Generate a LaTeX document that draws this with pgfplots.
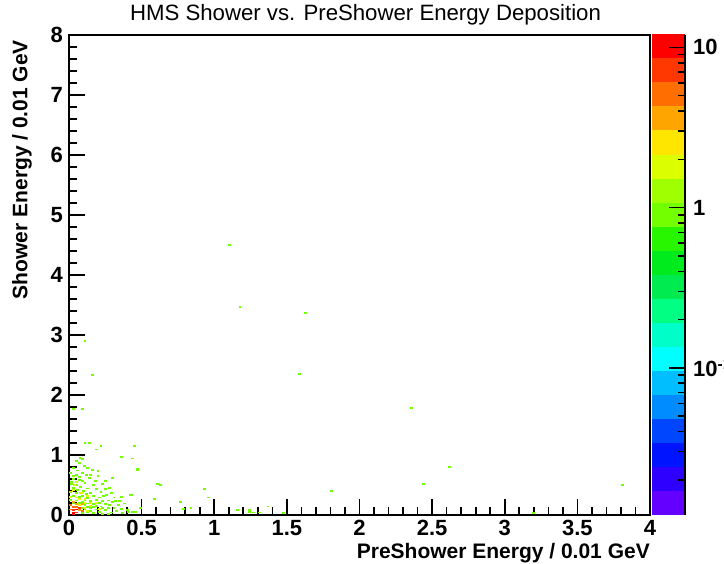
\documentclass[border=0pt]{standalone}
\usepackage{pgfplots}
\pgfplotsset{compat=1.18}
\usepackage{fontspec}
\setmainfont{Liberation Sans}

\definecolor{c01}{RGB}{100,0,255}
\definecolor{c02}{RGB}{45,0,255}
\definecolor{c03}{RGB}{0,20,255}
\definecolor{c04}{RGB}{0,70,255}
\definecolor{c05}{RGB}{0,140,255}
\definecolor{c06}{RGB}{0,190,255}
\definecolor{c07}{RGB}{0,255,255}
\definecolor{c08}{RGB}{0,255,200}
\definecolor{c09}{RGB}{0,255,130}
\definecolor{c10}{RGB}{0,235,80}
\definecolor{c11}{RGB}{0,235,30}
\definecolor{c12}{RGB}{40,245,0}
\definecolor{c13}{RGB}{115,255,0}
\definecolor{c14}{RGB}{160,255,0}
\definecolor{c15}{RGB}{220,255,0}
\definecolor{c16}{RGB}{255,230,0}
\definecolor{c17}{RGB}{255,165,0}
\definecolor{c18}{RGB}{255,110,0}
\definecolor{c19}{RGB}{255,55,0}
\definecolor{c20}{RGB}{255,0,0}

\pgfdeclareplotmark{binr}{\pgfpathrectangle{\pgfqpoint{-1.45pt}{-0.9pt}}{\pgfqpoint{2.9pt}{1.8pt}}\pgfusepathqfill}

\newcommand{\tfont}{\fontsize{22}{22}\selectfont\bfseries}

\begin{document}
\begin{tikzpicture}
\begin{axis}[
  at={(0pt,0pt)}, anchor=south west,
  scale only axis, width=581pt, height=480pt,
  xmin=0, xmax=4, ymin=0, ymax=8,
  xtick={0,0.5,...,4}, ytick={0,1,...,8},
  minor x tick num=4, minor y tick num=4,
  tick pos=left, tick align=inside,
  major tick length=16pt, minor tick length=8pt,
  axis line style={line width=1.6pt},
  every tick/.style={black, line width=1.6pt},
  /pgf/number format/assume math mode=true,
  tick label style={font=\tfont},
  xticklabel style={inner sep=0pt, anchor=north, yshift=-5pt},
  yticklabel style={inner sep=0pt, anchor=east, xshift=-6pt},
  title={HMS Shower vs. PreShower Energy Deposition},
  title style={font=\fontsize{22.2}{22}\selectfont, at={(axis description cs:0.5,1)}, anchor=base, yshift=8pt, xshift=6pt, inner sep=0pt},
  xlabel={PreShower Energy / 0.01 GeV},
  xlabel style={font=\fontsize{21}{21}\selectfont\bfseries, at={(axis description cs:1,-0.058)}, anchor=north east, inner sep=0pt},
  ylabel={Shower Energy / 0.01 GeV},
  ylabel style={font=\fontsize{21}{21}\selectfont\bfseries, at={(axis description cs:-0.081,0.99)}, anchor=east, inner sep=0pt},
  clip=true,
]
% count = 1
\addplot[only marks, mark=binr, color=c13] coordinates {
(1.108,4.50) (1.177,3.47) (1.63,3.36) (0.11,2.90) (0.16,2.33) (1.59,2.345)
(0.03,1.76) (0.09,1.76) (2.36,1.78) (2.62,0.805) (1.81,0.405) (2.44,0.51)
(3.81,0.505) (3.2,0.03) (1.475,0.03) (1.37,0.14) (1.27,0.04) (1.31,0.04)
(1.245,0.05) (0.45,1.155) (0.44,0.94) (0.47,0.745) (0.47,0.77) (0.61,0.52) (0.63,0.505)
(0.42,0.33) (0.43,0.33) (0.59,0.27) (0.93,0.43) (0.96,0.29) (0.77,0.22)
(0.84,0.12) (0.79,0.10) (0.49,0.12) (0.44,0.05) (0.46,0.05) (1.16,0.08)
(1.24,0.08) (0.11,1.20) (0.14,1.20) (0.22,1.155) (0.19,1.09) (0.076,0.955)
(0.09,0.93) (0.36,0.97) (0.05,0.905) (0.20,0.73) (0.30,0.62) (0.105,0.82)
(0.06,0.74) (0.05,0.67) (0.16,0.75) (0.12,0.67) (0.20,0.74) (0.20,0.65)
(0.25,0.43) (0.32,0.23) (0.35,0.23) (0.22,0.14) (0.26,0.33)
(0.03,0.60) (0.07,0.58) (0.14,0.61) (0.09,0.56)
(0.02,0.52) (0.05,0.50) (0.11,0.53) (0.17,0.50) (0.23,0.52) (0.08,0.47)
(0.03,0.45) (0.13,0.44) (0.06,0.42) (0.19,0.43) (0.28,0.45) (0.10,0.40)
(0.01,0.38) (0.05,0.36) (0.15,0.37) (0.22,0.38) (0.12,0.35) (0.29,0.36)
(0.03,0.31) (0.07,0.30) (0.09,0.32) (0.17,0.31) (0.21,0.29) (0.24,0.31) (0.13,0.28) (0.31,0.29) (0.36,0.30)
(0.01,0.25) (0.05,0.24) (0.11,0.25) (0.15,0.23) (0.19,0.25) (0.23,0.23) (0.27,0.24) (0.09,0.22) (0.30,0.21)
(0.03,0.19) (0.07,0.20) (0.13,0.19) (0.17,0.18) (0.21,0.20) (0.25,0.18) (0.19,0.15) (0.28,0.16) (0.11,0.16) (0.34,0.17) (0.38,0.19)
(0.09,0.12) (0.13,0.13) (0.15,0.11) (0.17,0.13) (0.23,0.12) (0.27,0.11) (0.31,0.12) (0.25,0.08) (0.11,0.09) (0.19,0.09) (0.36,0.10) (0.40,0.08)
(0.09,0.03) (0.13,0.04) (0.15,0.06) (0.17,0.03) (0.21,0.05) (0.23,0.02) (0.29,0.04) (0.33,0.06) (0.27,0.02) (0.37,0.03) (0.41,0.05)
(0.03,0.65) (0.01,0.70) (0.07,0.63) (0.15,0.66) (0.09,0.70) (0.03,0.78) (0.13,0.78) (0.07,0.86) (0.02,0.55) (0.25,0.56) (0.18,0.57)
};
% count = 2
\addplot[only marks, mark=binr, color=c15] coordinates {
(0.05,0.55) (0.03,0.41) (0.09,0.36) (0.13,0.31) (0.11,0.20) (0.15,0.15)
(0.19,0.20) (0.07,0.26) (0.21,0.10) (0.13,0.07) (0.01,0.30)
};
% count = 3
\addplot[only marks, mark=binr, color=c16] coordinates {
(0.04,0.50) (0.11,0.27) (0.15,0.20) (0.08,0.37) (0.02,0.39) (0.07,0.16) (0.11,0.12) (0.05,0.29)
};
% count = 4
\addplot[only marks, mark=binr, color=c17] coordinates {
(0.03,0.22) (0.09,0.18) (0.05,0.18) (0.07,0.08)
};
% count = 5-6
\addplot[only marks, mark=binr, color=c18] coordinates {
(0.01,0.16) (0.03,0.13) (0.09,0.06) (0.05,0.13) (0.01,0.09)
};
% count = 7-8
\addplot[only marks, mark=binr, color=c19] coordinates {
(0.03,0.08) (0.05,0.04) (0.07,0.12)
};
% count >= 10
\addplot[only marks, mark=binr, color=c20] coordinates {
(0.03,0.04) (0.05,0.09) (0.03,0.02)
};
\end{axis}

% colour scale: bands as filled areas
\begin{axis}[
  at={(583pt,0pt)}, anchor=south west,
  scale only axis, width=33pt, height=480pt,
  xmin=0, xmax=1, ymin=-1.919, ymax=1.077,
  hide axis, clip=true,
]
\addplot[fill=c01, draw=none] coordinates {(0,-1.919) (1,-1.919) (1,-1.769) (0,-1.769)};
\addplot[fill=c02, draw=none] coordinates {(0,-1.769) (1,-1.769) (1,-1.619) (0,-1.619)};
\addplot[fill=c03, draw=none] coordinates {(0,-1.619) (1,-1.619) (1,-1.469) (0,-1.469)};
\addplot[fill=c04, draw=none] coordinates {(0,-1.469) (1,-1.469) (1,-1.319) (0,-1.319)};
\addplot[fill=c05, draw=none] coordinates {(0,-1.319) (1,-1.319) (1,-1.169) (0,-1.169)};
\addplot[fill=c06, draw=none] coordinates {(0,-1.169) (1,-1.169) (1,-1.019) (0,-1.019)};
\addplot[fill=c07, draw=none] coordinates {(0,-1.019) (1,-1.019) (1,-0.869) (0,-0.869)};
\addplot[fill=c08, draw=none] coordinates {(0,-0.869) (1,-0.869) (1,-0.719) (0,-0.719)};
\addplot[fill=c09, draw=none] coordinates {(0,-0.719) (1,-0.719) (1,-0.569) (0,-0.569)};
\addplot[fill=c10, draw=none] coordinates {(0,-0.569) (1,-0.569) (1,-0.419) (0,-0.419)};
\addplot[fill=c11, draw=none] coordinates {(0,-0.419) (1,-0.419) (1,-0.269) (0,-0.269)};
\addplot[fill=c12, draw=none] coordinates {(0,-0.269) (1,-0.269) (1,-0.119) (0,-0.119)};
\addplot[fill=c13, draw=none] coordinates {(0,-0.119) (1,-0.119) (1,0.031) (0,0.031)};
\addplot[fill=c14, draw=none] coordinates {(0,0.031) (1,0.031) (1,0.181) (0,0.181)};
\addplot[fill=c15, draw=none] coordinates {(0,0.181) (1,0.181) (1,0.331) (0,0.331)};
\addplot[fill=c16, draw=none] coordinates {(0,0.331) (1,0.331) (1,0.481) (0,0.481)};
\addplot[fill=c17, draw=none] coordinates {(0,0.481) (1,0.481) (1,0.631) (0,0.631)};
\addplot[fill=c18, draw=none] coordinates {(0,0.631) (1,0.631) (1,0.781) (0,0.781)};
\addplot[fill=c19, draw=none] coordinates {(0,0.781) (1,0.781) (1,0.931) (0,0.931)};
\addplot[fill=c20, draw=none] coordinates {(0,0.931) (1,0.931) (1,1.081) (0,1.081)};
\end{axis}

% colour scale: right axis line, tick marks (as comb plots) and labels over the bands
\begin{axis}[
  at={(583pt,0pt)}, anchor=south west,
  scale only axis, width=33pt, height=480pt,
  xmin=-1, xmax=0, ymin=-1.919, ymax=1.077,
  axis line style={draw=none},
  xtick=\empty,
  ytick pos=right, yticklabel pos=right,
  every tick/.style={draw=none},
  ytick={-1,0,1}, yticklabels={10\textsuperscript{-1},1,10},
  yticklabel style={font=\tfont, inner sep=0pt, anchor=west, xshift=8pt},
  clip=false,
  after end axis/.code={\draw[line width=1.6pt] (rel axis cs:1,0) -- (rel axis cs:1,1);},
]
\addplot[xcomb, draw=black, line width=1.6pt, forget plot] coordinates {
(-0.485,-1) (-0.485,0) (-0.485,1)
};
\addplot[xcomb, draw=black, line width=1.6pt, forget plot] coordinates {
(-0.227,-1.699) (-0.227,-1.523) (-0.227,-1.398) (-0.227,-1.301) (-0.227,-1.222) (-0.227,-1.155) (-0.227,-1.097) (-0.227,-1.046)
(-0.227,-0.699) (-0.227,-0.523) (-0.227,-0.398) (-0.227,-0.301) (-0.227,-0.222) (-0.227,-0.155) (-0.227,-0.097) (-0.227,-0.046)
(-0.227,0.301) (-0.227,0.477) (-0.227,0.602) (-0.227,0.699) (-0.227,0.778) (-0.227,0.845) (-0.227,0.903) (-0.227,0.954)
};
\end{axis}
\pgfresetboundingbox
\path[use as bounding box] (-69pt,-49pt) rectangle (655pt,515pt);
\end{tikzpicture}
\end{document}
